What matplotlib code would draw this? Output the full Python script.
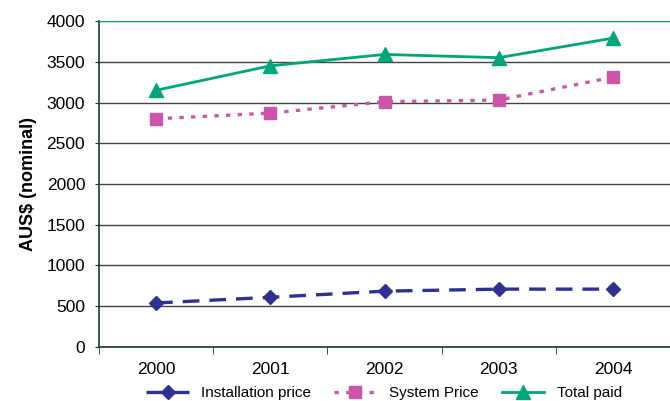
import matplotlib
matplotlib.use("Agg")
import matplotlib.pyplot as plt

years = ["2000", "2001", "2002", "2003", "2004"]
installation_price = [540, 610, 685, 710, 710]
system_price = [2800, 2870, 3010, 3030, 3310]
total_paid = [3150, 3450, 3590, 3550, 3790]
y_ticks = [0, 500, 1000, 1500, 2000, 2500, 3000, 3500, 4000]

plt.rcParams["font.family"] = ["Liberation Sans", "DejaVu Sans"]

fig = plt.figure(figsize=(6.7, 4.01), dpi=100)
ax = fig.add_axes([0.1478, 0.1347, 0.8522, 0.8129])

x = list(range(len(years)))
ax.plot(x, installation_price, color="#2E3192", lw=2.4, ls=(0, (5, 3)),
        marker="D", ms=7.5, label="Installation price")
ax.plot(x, system_price, color="#CC55AA", lw=2.4, ls=(0, (1.3, 2.2)),
        marker="s", ms=8, label="System Price")
ax.plot(x, total_paid, color="#00A77A", lw=2.0, ls="-",
        marker="^", ms=9.5, label="Total paid")

ax.set_xlim(-0.5, len(years) - 0.5)
ax.set_ylim(0, 4000)
ax.set_yticks(y_ticks)
ax.set_yticklabels([str(v) for v in y_ticks], fontsize=12.5)
ax.yaxis.grid(True, color="#444444", lw=1.0)
ax.set_axisbelow(True)

ax.set_xticks(x)
ax.set_xticklabels(years, fontsize=12.5)
ax.tick_params(axis="x", length=0, pad=10.5)
ax.set_xticks([i - 0.5 for i in range(len(years) + 1)], minor=True)
ax.tick_params(axis="x", which="minor", length=5, color="#1B3A2E", direction="out")
ax.tick_params(axis="y", length=3, color="#1B3A2E", pad=7)

ax.spines["right"].set_visible(False)
ax.spines["top"].set_color("#00A77A")
ax.spines["left"].set_color("#1B3A2E")
ax.spines["bottom"].set_color("#1B3A2E")
ax.spines["left"].set_linewidth(1.2)
ax.spines["bottom"].set_linewidth(1.2)

ax.set_ylabel("AUS$ (nominal)", fontsize=13, fontweight="bold", labelpad=7)

fig.legend(loc="center", bbox_to_anchor=(0.573, 0.02), ncol=3, frameon=False,
           fontsize=11, handlelength=2.8, columnspacing=1.5, handletextpad=0.8)

fig.savefig("out.png", dpi=100)
